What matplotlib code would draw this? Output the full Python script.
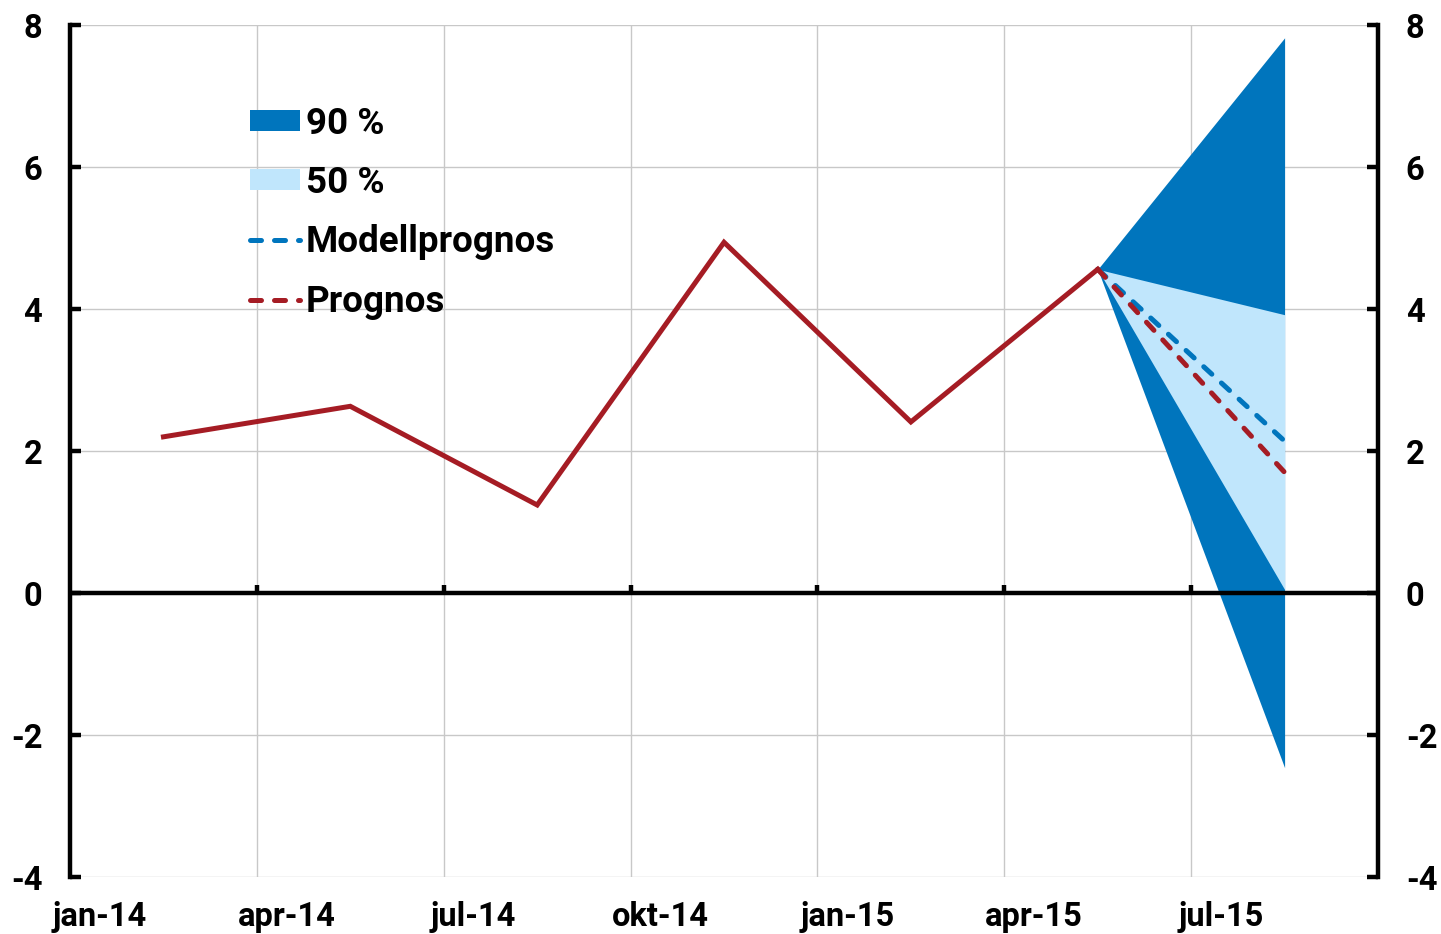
import matplotlib.pyplot as plt
from matplotlib.patches import Patch
from matplotlib.lines import Line2D

# Output
output_file_name = "out.png"

# Quarter labels on the x axis (category axis, one unit per quarter)
quarter_labels = ['jan-14', 'apr-14', 'jul-14', 'okt-14', 'jan-15', 'apr-15', 'jul-15']

# Outcome, one value per quarter
outcome = [2.2, 2.63, 1.24, 4.94, 2.41, 4.56]

# Forecasts from the last outcome to the next quarter
model_forecast = [4.56, 2.14]
forecast = [4.56, 1.70]

# Uncertainty bands
band90_low = [4.56, -2.46]
band90_high = [4.56, 7.82]
band50_low = [4.56, 0.05]
band50_high = [4.56, 3.92]

# Colors
red = '#A51C24'
blue = '#0075BD'
light_blue = '#C0E6FC'
grid_gray = '#C8C8C8'

plt.rcParams['font.family'] = ['Roboto', 'DejaVu Sans']
plt.rcParams['font.weight'] = 'bold'
plt.rcParams['axes.unicode_minus'] = False
font_size = 23.5
legend_size = 26.5

fig = plt.figure(figsize=(14.41, 9.34), dpi=100)
ax = fig.add_axes([0.0486, 0.061, 0.9077, 0.9122])

# Data sits in the middle of each quarter
x_outcome = [i + 0.5 for i in range(len(outcome))]
x_fc = [len(outcome) - 0.5, len(outcome) + 0.5]

ax.fill_between(x_fc, band90_low, band90_high, color=blue, linewidth=0, zorder=2)
ax.fill_between(x_fc, band50_low, band50_high, color=light_blue, linewidth=0, zorder=3)

ax.axhline(0, color='black', linewidth=3.2, zorder=4)

dash = (0, (2.2, 2.6))
ax.plot(x_outcome, outcome, color=red, linewidth=3.6, solid_joinstyle='miter', zorder=6)
ax.plot(x_fc, model_forecast, color=blue, linewidth=3.6, linestyle=dash,
        dash_capstyle='round', zorder=5)
ax.plot(x_fc, forecast, color=red, linewidth=3.6, linestyle=dash,
        dash_capstyle='round', zorder=6)

# Axes limits and grid
ax.set_xlim(0, len(quarter_labels))
ax.set_ylim(-4, 8)
ax.set_yticks(range(-4, 9, 2))
ax.set_xticks(range(len(quarter_labels)))
ax.set_xticklabels([])
ax.grid(True, color=grid_gray, linewidth=1.0, zorder=1)
ax.set_axisbelow(True)

for side in ['top', 'bottom']:
    ax.spines[side].set_visible(False)
for side in ['left', 'right']:
    ax.spines[side].set_linewidth(3.2)
    ax.spines[side].set_zorder(7)

ax.tick_params(axis='y', direction='in', length=8, width=3.2, left=True, right=True,
               labelleft=True, labelright=True, labelsize=font_size, pad=20)
ax.tick_params(axis='x', length=0)

# Short tick marks on the zero line
for i in range(1, len(quarter_labels)):
    ax.plot([i, i], [0, 0.12], color='black', linewidth=3.2, solid_capstyle='butt', zorder=4)

# Quarter labels below the plot
for i, lab in enumerate(quarter_labels):
    ax.text(i + 0.16, -4.57, lab, ha='center', va='center', fontsize=font_size,
            fontweight='bold')

for lab in ax.get_yticklabels():
    lab.set_fontweight('bold')

# Legend
handles = [
    Patch(facecolor=blue, edgecolor='none'),
    Patch(facecolor=light_blue, edgecolor='none'),
    Line2D([], [], color=blue, linewidth=3.6, linestyle=dash, dash_capstyle='round'),
    Line2D([], [], color=red, linewidth=3.6, linestyle=dash, dash_capstyle='round'),
]
labels = ['90 %', '50 %', 'Modellprognos', 'Prognos']
leg = ax.legend(handles, labels, loc='upper left', bbox_to_anchor=(0.126, 0.9227),
                frameon=False, fontsize=legend_size, handlelength=1.37, handleheight=0.5,
                handletextpad=0.15, labelspacing=0.633, borderaxespad=0)
for t in leg.get_texts():
    t.set_fontweight('bold')

# Save to file
fig.savefig(output_file_name, dpi=100)
